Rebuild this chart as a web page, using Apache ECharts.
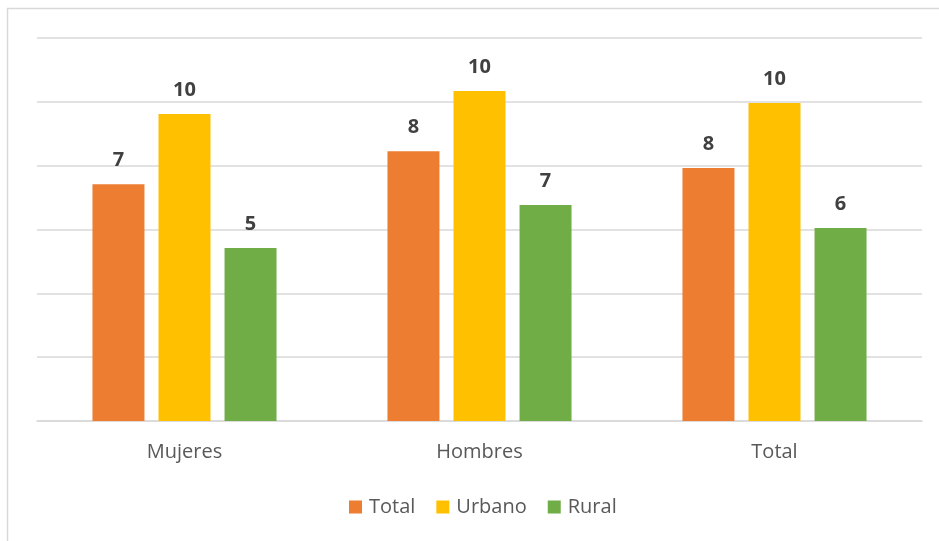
<!DOCTYPE html>
<html>
<head>
<meta charset="utf-8">
<script src="https://cdn.jsdelivr.net/npm/echarts@6/dist/echarts.min.js"></script>
<style>
  html, body { margin: 0; padding: 0; background: #fff; }
  #chart { width: 939px; height: 541px; }
</style>
</head>
<body>
<div id="chart"></div>
<script>
// Categories and series values
const categories = ['Mujeres', 'Hombres', 'Total'];
const totalValues = [7.42, 8.45, 7.93];
const urbanoValues = [9.62, 10.34, 9.96];
const ruralValues = [5.42, 6.77, 6.05];
const seriesNames = ['Total', 'Urbano', 'Rural'];

const colors = ['#ED7D31', '#FFC000', '#70AD47'];
const fontFamily = '"Open Sans", "Noto Sans", sans-serif';

const chart = echarts.init(document.getElementById('chart'), null, { renderer: 'canvas' });

function barSeries(name, data, color) {
  return {
    name: name,
    type: 'bar',
    data: data,
    barWidth: 52,
    barGap: '27%',
    itemStyle: { color: color },
    label: {
      show: true,
      position: 'top',
      distance: 14,
      color: '#404040',
      fontFamily: fontFamily,
      fontWeight: 'bold',
      fontSize: 20,
      formatter: p => Math.round(p.value).toString()
    }
  };
}

chart.setOption({
  animation: false,
  backgroundColor: '#ffffff',
  graphic: [{
    type: 'rect',
    shape: { x: 7.5, y: 8.5, width: 960, height: 560 },
    style: { fill: 'none', stroke: '#D9D9D9', lineWidth: 1.5 },
    silent: true,
    z: -1
  }],
  grid: { left: 37, right: 17, top: 38, bottom: 120 },
  legend: {
    top: 492,
    left: 344,
    itemWidth: 13,
    itemHeight: 13,
    itemGap: 21,
    icon: 'rect',
    textStyle: { color: '#595959', fontFamily: fontFamily, fontSize: 20, padding: [0, 0, 0, 2] },
    data: seriesNames
  },
  xAxis: {
    type: 'category',
    data: categories,
    axisLine: { lineStyle: { color: '#D9D9D9', width: 1.5 } },
    axisTick: { show: false },
    axisLabel: { color: '#595959', fontFamily: fontFamily, fontSize: 20, margin: 21 }
  },
  yAxis: {
    type: 'value',
    min: 0,
    max: 12,
    interval: 2,
    axisLabel: { show: false },
    axisLine: { show: false },
    axisTick: { show: false },
    splitLine: { lineStyle: { color: '#D9D9D9', width: 1.5 } }
  },
  series: [
    barSeries(seriesNames[0], totalValues, colors[0]),
    barSeries(seriesNames[1], urbanoValues, colors[1]),
    barSeries(seriesNames[2], ruralValues, colors[2])
  ]
});
</script>
</body>
</html>
